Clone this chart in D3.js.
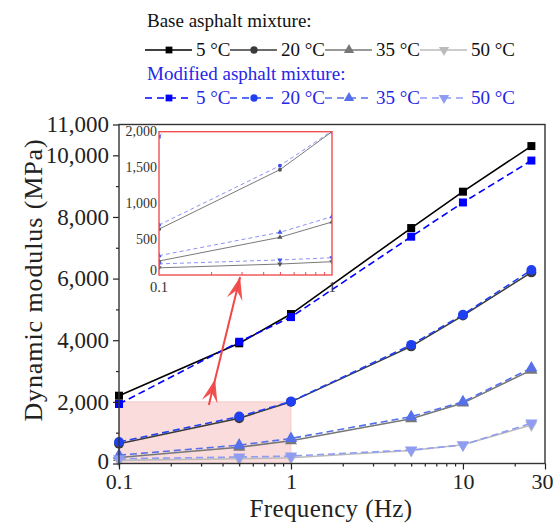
<!DOCTYPE html>
<html>
<head>
<meta charset="utf-8">
<script src="https://cdn.jsdelivr.net/npm/d3@7.9.0/dist/d3.min.js"></script>
<style>
  body { margin: 0; background: #fff; }
  svg text { font-family: "Liberation Serif", "Times New Roman", serif; }
</style>
</head>
<body>
<svg width="555" height="527"></svg>
<script>
// frequencies (Hz)
const freqs = [0.1, 0.5, 1, 5, 10, 25];

// base asphalt mixture (MPa)
const base5 = [2200, 3900, 4850, 7640, 8820, 10300];
const base20 = [640, 1470, 2000, 3800, 4800, 6200];
const base35 = [195, 526, 740, 1450, 1960, 3030];
const base50 = [100, 153, 186, 420, 610, 1250];

// modified asphalt mixture (MPa)
const mod5 = [1930, 3950, 4750, 7360, 8470, 9830];
const mod20 = [698, 1525, 2010, 3850, 4830, 6280];
const mod35 = [270, 596, 814, 1520, 2000, 3100];
const mod50 = [155, 210, 241, 440, 600, 1310];

const tempLabels = ['5 °C', '20 °C', '35 °C', '50 °C'];
const yTicks = [0, 2000, 4000, 6000, 8000, 10000, 11000];
const yMinor = [1000, 3000, 5000, 7000, 9000];
const xTicks = [0.1, 1, 10, 30];
const xMinor = [0.2, 0.3, 0.4, 0.5, 0.6, 0.7, 0.8, 0.9, 2, 3, 4, 5, 6, 7, 8, 9, 20];
const insetYTicks = [0, 500, 1000, 1500, 2000];
const insetXMinor = [0.2, 0.3, 0.4, 0.5, 0.6, 0.7, 0.8, 0.9];

const baseColors = ['#000000', '#3a3a3a', '#777777', '#bbbbbb'];
const modColors = ['#0000ff', '#1f3ff2', '#5570ea', '#8e9cf3'];
const shapes = [d3.symbolSquare, d3.symbolCircle, d3.symbolTriangle, d3.symbolTriangle];

let series = [
  { vals: base5, color: baseColors[0], dashed: false, shape: 0 },
  { vals: base20, color: baseColors[1], dashed: false, shape: 1 },
  { vals: base35, color: baseColors[2], dashed: false, shape: 2 },
  { vals: base50, color: baseColors[3], dashed: false, shape: 3 },
  { vals: mod5, color: modColors[0], dashed: true, shape: 0 },
  { vals: mod20, color: modColors[1], dashed: true, shape: 1 },
  { vals: mod35, color: modColors[2], dashed: true, shape: 2 },
  { vals: mod50, color: modColors[3], dashed: true, shape: 3 },
];

const svg = d3.select('svg');

let x = d3.scaleLog().domain([0.1, 30]).range([119, 545]);
let y = d3.scaleLinear().domain([0, 11000]).range([463.5, 124.5]);

function marker(sel, shape, size) {
  let sym = d3.symbol().type(shapes[shape]).size(size);
  sel.attr('d', sym);
  if (shape === 3) sel.attr('transform', function () { return d3.select(this).attr('transform') + ' rotate(180)'; });
}

// highlighted zone
svg.append('rect')
  .attr('x', x(0.1)).attr('y', y(2000))
  .attr('width', x(1) - x(0.1)).attr('height', y(0) - y(2000))
  .attr('fill', '#fbdcdc').attr('stroke', '#f2b8b8').attr('stroke-width', 0.6);

// main series
function drawSeries(g, xs, ys, lw, dash, msize) {
  series.forEach((s) => {
    let line = d3.line().x((d, i) => xs(freqs[i])).y((d) => ys(d));
    g.append('path')
      .attr('d', line(s.vals))
      .attr('fill', 'none')
      .attr('stroke', s.color)
      .attr('stroke-width', lw)
      .attr('stroke-dasharray', s.dashed ? dash : null);
    s.vals.forEach((v, i) => {
      let p = g.append('path')
        .attr('transform', `translate(${xs(freqs[i])},${ys(v)})`)
        .attr('fill', s.color);
      marker(p, s.shape, s.shape === 1 ? msize * 1.2 : msize);
    });
  });
}

let main = svg.append('g');
drawSeries(main, x, y, 1.6, '7,4', 64);

// axes
let yAxis = svg.append('g').attr('transform', `translate(${x(0.1)},0)`)
  .call(d3.axisLeft(y).tickValues(yTicks).tickFormat(d3.format(',')).tickSize(6).tickPadding(4));
svg.append('g').attr('transform', `translate(${x(0.1)},0)`)
  .call(d3.axisLeft(y).tickValues(yMinor).tickFormat('').tickSize(3));
let xAxis = svg.append('g').attr('transform', `translate(0,${y(0)})`)
  .call(d3.axisBottom(x).tickValues(xTicks).tickFormat(d3.format('')).tickSize(6).tickPadding(4));
svg.append('g').attr('transform', `translate(0,${y(0)})`)
  .call(d3.axisBottom(x).tickValues(xMinor).tickFormat('').tickSize(3));

svg.selectAll('.domain').remove();
svg.selectAll('.tick line').attr('stroke', '#222').attr('stroke-width', 1.2);
yAxis.selectAll('text').attr('font-size', 23).attr('fill', '#222');
yAxis.selectAll('.tick').filter((d) => d === 0).select('text').attr('dy', '0.2em');
xAxis.selectAll('text').attr('font-size', 22).attr('fill', '#222');
xAxis.selectAll('.tick').filter((d) => d === 30).select('text').attr('dx', -3);

// frame
svg.append('rect')
  .attr('x', x(0.1)).attr('y', y(11000))
  .attr('width', x(30) - x(0.1)).attr('height', y(0) - y(11000))
  .attr('fill', 'none').attr('stroke', '#333').attr('stroke-width', 1.4);

// axis titles
svg.append('text')
  .attr('x', (x(0.1) + x(30)) / 2 - 1).attr('y', 517)
  .attr('text-anchor', 'middle').attr('font-size', 25).attr('letter-spacing', 0.4)
  .attr('fill', '#222')
  .text('Frequency (Hz)');
svg.append('text')
  .attr('transform', `translate(42,${(y(0) + y(11000)) / 2 - 14}) rotate(-90)`)
  .attr('text-anchor', 'middle').attr('font-size', 26).attr('letter-spacing', 0.9)
  .attr('fill', '#222')
  .text('Dynamic modulus (MPa)');

// inset
let xi = d3.scaleLog().domain([0.1, 1]).range([159, 332]);
let yi = d3.scaleLinear().domain([0, 2000]).range([275, 131.7]);

svg.append('rect')
  .attr('x', xi(0.1)).attr('y', yi(2000))
  .attr('width', xi(1) - xi(0.1)).attr('height', yi(0) - yi(2000))
  .attr('fill', '#fff');

svg.append('clipPath').attr('id', 'insetClip')
  .append('rect')
  .attr('x', xi(0.1)).attr('y', yi(2000))
  .attr('width', xi(1) - xi(0.1)).attr('height', yi(0) - yi(2000));

let inset = svg.append('g').attr('clip-path', 'url(#insetClip)');
series.forEach((s) => {
  let line = d3.line().x((d, i) => xi(freqs[i])).y((d) => yi(d));
  inset.append('path')
    .attr('d', line(s.vals))
    .attr('fill', 'none')
    .attr('stroke', s.dashed ? '#7f86f2' : '#6a6a6a')
    .attr('stroke-width', 0.9)
    .attr('stroke-dasharray', s.dashed ? '4,3' : null);
  s.vals.forEach((v, i) => {
    let p = inset.append('path')
      .attr('transform', `translate(${xi(freqs[i])},${yi(v)})`)
      .attr('fill', s.dashed ? '#4050f0' : '#555');
    marker(p, s.shape, 12);
  });
});

svg.append('g').attr('transform', `translate(0,${yi(0)})`)
  .call(d3.axisTop(xi).tickValues(insetXMinor).tickFormat('').tickSize(3))
  .call((g) => g.select('.domain').remove())
  .selectAll('line').attr('stroke', '#e05050');

svg.append('rect')
  .attr('x', xi(0.1)).attr('y', yi(2000))
  .attr('width', xi(1) - xi(0.1)).attr('height', yi(0) - yi(2000))
  .attr('fill', 'none').attr('stroke', '#f05050').attr('stroke-width', 1.4);

insetYTicks.forEach((v) => {
  svg.append('text')
    .attr('x', xi(0.1) - 2).attr('y', yi(v) + (v === 0 ? 0 : 4.5))
    .attr('text-anchor', 'end').attr('font-size', 14).attr('fill', '#333')
    .text(d3.format(',')(v));
});
[0.1, 1].forEach((v) => {
  svg.append('text')
    .attr('x', xi(v)).attr('y', yi(0) + 17)
    .attr('text-anchor', 'middle').attr('font-size', 14.5).attr('fill', '#333')
    .text(d3.format('')(v));
});

// arrow from zone to inset
const arrowFrom = [0.333, 1900];
const arrowTo = [0.506, 6055];
let ax0 = x(arrowFrom[0]), ay0 = y(arrowFrom[1]);
let ax1 = x(arrowTo[0]), ay1 = y(arrowTo[1]);
let alen = Math.hypot(ax1 - ax0, ay1 - ay0);
let ux = (ax1 - ax0) / alen, uy = (ay1 - ay0) / alen;
let nx = -uy, ny = ux;

svg.append('line')
  .attr('x1', ax0).attr('y1', ay0).attr('x2', ax1).attr('y2', ay1)
  .attr('stroke', '#f04848').attr('stroke-width', 2);

function arrowHead(tx, ty) {
  let L = 23, W = 8;
  let pts = [
    [tx, ty],
    [tx - L * ux + W * nx, ty - L * uy + W * ny],
    [tx - 0.6 * L * ux, ty - 0.6 * L * uy],
    [tx - L * ux - W * nx, ty - L * uy - W * ny],
  ];
  svg.append('path')
    .attr('d', d3.line()(pts) + 'Z')
    .attr('fill', '#f04848').attr('opacity', 0.95);
}
arrowHead(ax1, ay1);
arrowHead(ax0 + 0.2 * (ax1 - ax0), ay0 + 0.2 * (ay1 - ay0));

// legend
const legendX = [145, 230, 325, 420];
const legendW = 47;
let legend = svg.append('g');
legend.append('text').attr('x', 147).attr('y', 27).attr('font-size', 19).attr('fill', '#111')
  .text('Base asphalt mixture:');
legend.append('text').attr('x', 147).attr('y', 80).attr('font-size', 19).attr('fill', '#2626e6')
  .text('Modified asphalt mixture:');

[0, 1].forEach((row) => {
  let ly = row === 0 ? 50 : 98;
  tempLabels.forEach((lab, k) => {
    let s = series[row * 4 + k];
    let lx = legendX[k];
    legend.append('line')
      .attr('x1', lx).attr('x2', lx + legendW).attr('y1', ly).attr('y2', ly)
      .attr('stroke', s.color).attr('stroke-width', 1.6)
      .attr('stroke-dasharray', s.dashed ? '7,5' : null);
    let p = legend.append('path')
      .attr('transform', `translate(${lx + 24},${ly})`)
      .attr('fill', s.color);
    marker(p, s.shape, s.shape === 1 ? 42 : 46);
    legend.append('text')
      .attr('x', lx + legendW + 4).attr('y', ly + 6)
      .attr('font-size', 19)
      .attr('fill', row === 0 ? '#111' : '#2626e6')
      .text(lab);
  });
});
</script>
</body>
</html>
